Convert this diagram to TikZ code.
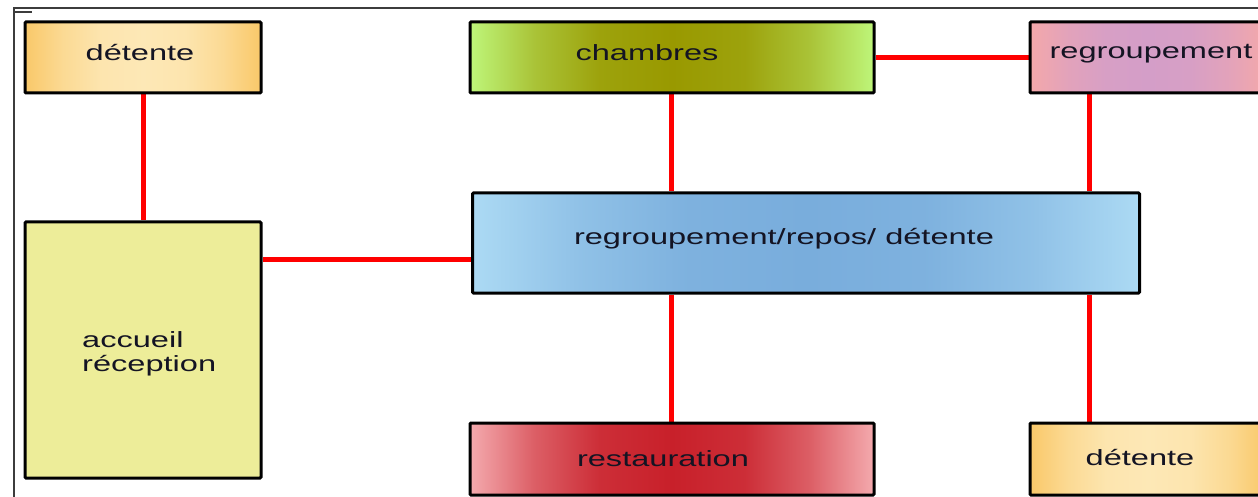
\documentclass[tikz,border=0pt]{standalone}
\usepackage{fontspec}
\newfontfamily\lbl[FakeStretch=1.48]{Liberation Sans}
\usetikzlibrary{backgrounds,calc}
\definecolor{detOut}{RGB}{249,200,105}
\definecolor{detIn}{RGB}{253,232,182}
\definecolor{chEdge}{RGB}{190,246,122}
\definecolor{chMid}{RGB}{153,153,0}
\definecolor{rgEdge}{RGB}{244,168,170}
\definecolor{rgMid}{RGB}{212,158,200}
\definecolor{ctEdge}{RGB}{172,218,244}
\definecolor{ctMid}{RGB}{121,173,220}
\definecolor{reEdge}{RGB}{244,170,174}
\definecolor{reMid}{RGB}{200,32,42}
\definecolor{acc}{RGB}{237,237,153}
\definecolor{framegray}{RGB}{60,60,60}
\definecolor{txt}{RGB}{20,20,35}
\newcommand\mkhshade[3]{%
  \pgfdeclarehorizontalshading{#1}{100bp}{%
    color(0bp)=(#2); color(25bp)=(#2); color(33bp)=(#3!55!#2);
    color(41bp)=(#3!90!#2); color(50bp)=(#3); color(59bp)=(#3!90!#2);
    color(67bp)=(#3!55!#2); color(75bp)=(#2); color(100bp)=(#2)}}
\mkhshade{shDet}{detOut}{detIn}
\mkhshade{shCh}{chEdge}{chMid}
\mkhshade{shRg}{rgEdge}{rgMid}
\mkhshade{shCt}{ctEdge}{ctMid}
\mkhshade{shRe}{reEdge}{reMid}
\tikzset{
  box/.style={draw=black, line width=3pt, rounded corners=1pt, inner sep=0pt, anchor=center},
  lab/.style={font=\lbl\fontsize{22}{24}\selectfont, text=txt, inner sep=0pt},
  conn/.style={draw=red, line width=5pt},
  frameline/.style={draw=framegray, line width=1.5pt}
}
\begin{document}
\begin{tikzpicture}[x=1pt,y=-1pt]
\useasboundingbox (0,0) rectangle (1258,497);
\clip (0,0) rectangle (1258,497);
% frame
\draw[frameline] (14,497) -- (14,8) -- (1258,8);
\draw[frameline] (14,12) -- (32,12);
% boxes
\node[box, shading=shDet, minimum width=236pt, minimum height=71pt] (detA) at (143,57.5) {};
\node[box, shading=shCh, minimum width=404pt, minimum height=71pt] (chamb) at (672,57.5) {};
\node[box, shading=shRg, minimum width=236pt, minimum height=71pt] (regr) at (1148,57.5) {};
\node[box, shading=shCt, minimum width=667pt, minimum height=100pt] (central) at (806,243) {};
\node[box, fill=acc, minimum width=236pt, minimum height=256pt] (accueil) at (143,350) {};
\node[box, shading=shRe, minimum width=404pt, minimum height=72pt] (resto) at (672,459) {};
\node[box, shading=shDet, minimum width=236pt, minimum height=72pt] (detB) at (1148,459) {};
% labels
\node[lab] (tdetA) at (140,53) {détente};
\node[lab] (tchamb) at (647,53) {chambres};
\node[lab] (tregr) at (1151,54) {regroupement};
\node[lab] (tcentral) at (784,239) {regroupement/repos/ détente};
\node[lab, anchor=west, align=left] (tacc) at (82,354) {accueil\\réception};
\node[lab] (tresto) at (663,459) {restauration};
\node[lab] (tdetB) at (1140,458) {détente};
% connectors
\begin{pgfonlayer}{background}
\draw[conn] (detA.south) -- (accueil.north);
\draw[conn] ([yshift=-16pt]central.west) -- ([yshift=-16pt]central.west -| accueil.east);
\draw[conn] ([xshift=-1pt]chamb.south) -- ([xshift=-1pt]central.north -| chamb.south);
\draw[conn] (chamb.east) -- (regr.west);
\draw[conn] ([xshift=-59pt]regr.south) -- ([xshift=-59pt]regr.south |- central.north);
\draw[conn] ([xshift=-1pt]resto.north) -- ([xshift=-1pt]central.south -| resto.north);
\draw[conn] ([xshift=-59pt]detB.north) -- ([xshift=-59pt]detB.north |- central.south);
\end{pgfonlayer}
\end{tikzpicture}
\end{document}
